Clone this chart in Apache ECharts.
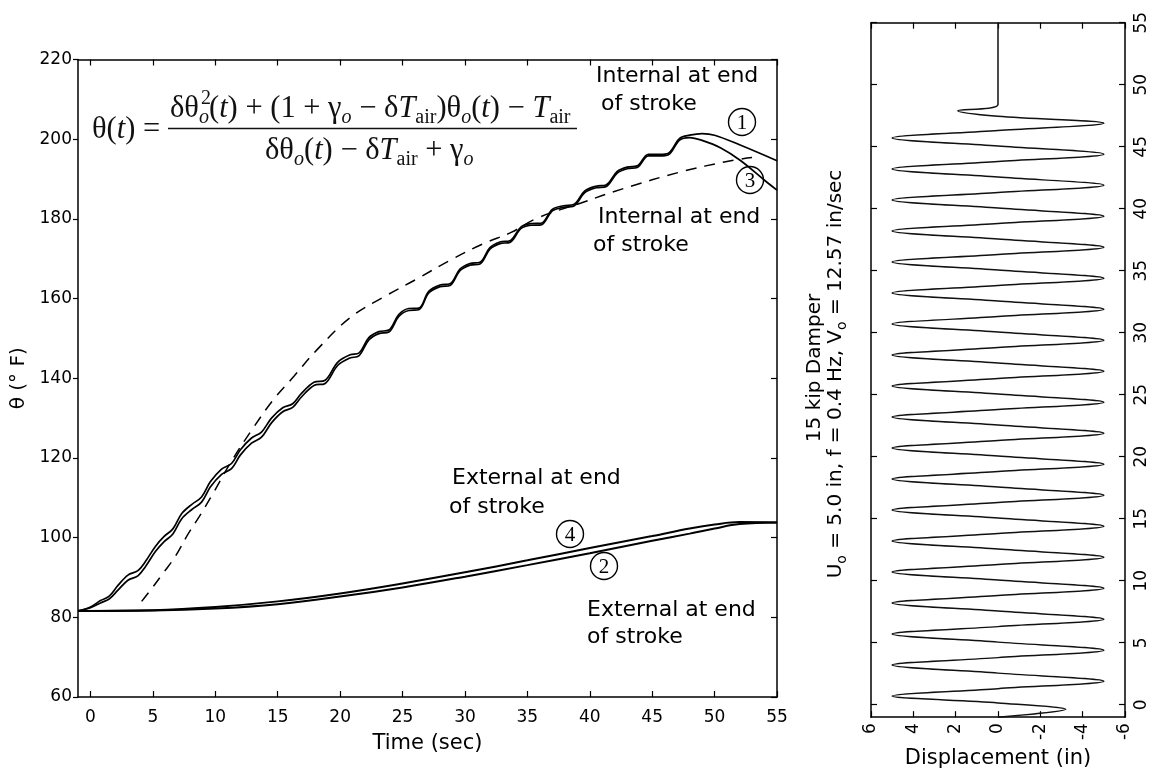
<!DOCTYPE html>
<html><head><meta charset="utf-8">
<script src="https://cdn.jsdelivr.net/npm/echarts@6/dist/echarts.min.js"></script>
<style>html,body{margin:0;padding:0;background:#fff}#c{width:1156px;height:774px}</style>
</head><body><div id="c"></div>
<script>
// ---------- tick labels ----------
const timeTicks = [0, 5, 10, 15, 20, 25, 30, 35, 40, 45, 50, 55];

// ---------- left panel: temperature (deg F) vs time (sec) ----------
const tInternal1 = [-1.0, 0.0, 0.8, 1.5, 2.2, 3.0, 3.8, 4.4, 5.2, 5.9, 6.6, 7.3, 8.1, 8.9, 9.6, 10.5, 11.3, 12.0, 12.9, 13.7, 14.5, 15.4, 16.2, 16.9, 17.9, 18.8, 19.8, 20.8, 21.5, 22.3, 23.1, 23.9, 24.7, 25.5, 26.3, 27.1, 28.0, 28.8, 29.6, 30.4, 31.2, 32.0, 32.8, 33.6, 34.5, 35.3, 36.1, 37.0, 37.9, 38.7, 39.6, 40.5, 41.3, 42.2, 43.0, 43.8, 44.7, 45.6, 46.3, 47.2, 48.0, 49.0, 50.0, 52.0, 55.0];
const vInternal1 = [81.6, 82.6, 84.2, 85.3, 88.0, 90.6, 91.7, 94.0, 97.8, 100.3, 102.2, 106.0, 108.3, 110.2, 114.0, 117.2, 118.6, 122.0, 125.0, 126.5, 130.0, 132.6, 133.6, 136.2, 139.0, 139.5, 144.0, 145.9, 146.3, 150.2, 151.7, 152.1, 156.0, 157.5, 157.6, 161.8, 163.4, 163.7, 167.4, 168.8, 169.1, 172.8, 174.2, 174.5, 178.0, 178.8, 178.9, 182.4, 183.3, 183.6, 187.0, 188.2, 188.5, 191.9, 193.0, 193.3, 196.2, 196.2, 196.5, 200.2, 201.0, 201.4, 201.0, 198.6, 194.6];

const tInternal3 = [-1.0, 0.0, 0.8, 1.5, 2.2, 3.0, 3.8, 4.4, 5.2, 5.9, 6.6, 7.3, 8.1, 8.9, 9.6, 10.5, 11.3, 12.0, 12.9, 13.7, 14.5, 15.4, 16.2, 16.9, 17.9, 18.8, 19.8, 20.8, 21.5, 22.3, 23.1, 23.9, 24.7, 25.5, 26.3, 27.1, 28.0, 28.8, 29.6, 30.4, 31.2, 32.0, 32.8, 33.6, 34.5, 35.3, 36.1, 37.0, 37.9, 38.7, 39.6, 40.5, 41.3, 42.2, 43.0, 43.8, 44.7, 45.6, 46.3, 47.2, 48.0, 49.0, 50.5, 52.1, 54.0, 55.0];
const vInternal3 = [81.6, 82.4, 83.6, 84.6, 86.8, 89.3, 90.4, 92.7, 96.5, 99.0, 100.9, 104.7, 107.0, 108.9, 112.7, 115.9, 117.3, 120.7, 123.7, 125.2, 128.8, 131.6, 132.7, 135.3, 138.2, 138.7, 143.2, 145.1, 145.6, 149.6, 151.2, 151.6, 155.5, 157.0, 157.2, 161.4, 163.0, 163.3, 167.0, 168.4, 168.7, 172.4, 173.8, 174.1, 177.6, 178.4, 178.5, 182.0, 182.9, 183.2, 186.6, 187.8, 188.1, 191.5, 192.6, 192.9, 195.8, 195.8, 196.1, 199.8, 200.4, 199.7, 197.8, 194.6, 189.7, 187.2];

const tDashed = [4.1, 5.0, 5.8, 6.8, 7.8, 8.9, 9.8, 11.3, 12.9, 14.6, 16.3, 18.1, 20.8, 23.5, 26.2, 28.8, 31.5, 33.7, 35.8, 39.3, 42.7, 47.3, 51.3, 53.0];
const vDashed = [84.0, 87.6, 91.0, 95.3, 100.8, 106.2, 111.0, 119.2, 126.9, 134.4, 140.5, 147.0, 155.2, 160.4, 165.0, 169.6, 173.8, 176.6, 180.2, 184.0, 187.6, 191.8, 194.6, 195.4];

const tExternal = [-1, 5, 10, 15, 20, 25, 30, 35, 40, 45, 48, 50, 52, 55];
const vExternal4 = [81.6, 81.8, 82.6, 84.0, 86.0, 88.5, 91.3, 94.3, 97.4, 100.4, 102.3, 103.3, 103.9, 103.8];
const vExternal2 = [81.6, 81.7, 82.2, 83.3, 85.2, 87.5, 90.2, 93.1, 96.1, 99.2, 101.0, 102.3, 103.4, 103.8];

// ---------- right panel: displacement (in) vs time (sec) ----------
const dispTime = [-1.0, -0.37, 0.15,
  0.7, 1.3, 1.9, 2.55,  3.2, 3.8, 4.4, 5.05,  5.7, 6.3, 6.9, 7.55,  8.2, 8.8, 9.4, 10.05,
  10.7, 11.3, 11.9, 12.55,  13.2, 13.8, 14.4, 15.05,  15.7, 16.3, 16.9, 17.55,  18.2, 18.8, 19.4, 20.05,
  20.7, 21.3, 21.9, 22.55,  23.2, 23.8, 24.4, 25.05,  25.7, 26.3, 26.9, 27.55,  28.2, 28.8, 29.4, 30.05,
  30.7, 31.3, 31.9, 32.55,  33.2, 33.8, 34.4, 35.05,  35.7, 36.3, 36.9, 37.55,  38.2, 38.8, 39.4, 40.05,
  40.7, 41.3, 41.9, 42.55,  43.2, 43.8, 44.4, 45.05,  45.7, 46.3, 46.9, 47.45,
  47.9, 48.4, 55.0];
const dispValue = [0, -3.2, 0,
  5, 0, -5, 0,  5, 0, -5, 0,  5, 0, -5, 0,  5, 0, -5, 0,
  5, 0, -5, 0,  5, 0, -5, 0,  5, 0, -5, 0,  5, 0, -5, 0,
  5, 0, -5, 0,  5, 0, -5, 0,  5, 0, -5, 0,  5, 0, -5, 0,
  5, 0, -5, 0,  5, 0, -5, 0,  5, 0, -5, 0,  5, 0, -5, 0,
  5, 0, -5, 0,  5, 0, -5, 0,  5, 0, -5, 0,
  1.9, 0, 0];

const SANS = 'DejaVu Sans';
const SERIF = 'Liberation Serif';
const pairs = (xs, ys) => xs.map((x, i) => [x, ys[i]]);

const chart = echarts.init(document.getElementById('c'), null, {renderer: 'canvas'});

const tickStyle = {color: '#000', width: 1.2};
const lineAxis = {show: true, onZero: false, lineStyle: {color: '#000', width: 1.5}};
const lblStyle = {color: '#000', fontFamily: SANS, fontSize: 17};

const mathRich = {
  n: {fontFamily: SERIF, fontSize: 30.5, lineHeight: 38},
  i: {fontFamily: SERIF, fontSize: 30.5, fontStyle: 'italic', lineHeight: 38},
  s: {fontFamily: SERIF, fontSize: 20, fontStyle: 'italic', lineHeight: 14, verticalAlign: 'bottom'},
  r: {fontFamily: SERIF, fontSize: 20, lineHeight: 14, verticalAlign: 'bottom'}
};
const sansRich = {
  t: {fontFamily: SANS, fontSize: 20, lineHeight: 26},
  s: {fontFamily: SANS, fontSize: 14, lineHeight: 10, verticalAlign: 'bottom'}
};

function label(txt, x, y) {
  return {type: 'text', x: x, y: y, z: 50,
    style: {text: txt, font: '22px "DejaVu Sans"', fill: '#000', textAlign: 'left', textVerticalAlign: 'middle'}};
}
function circled(num, x, y) {
  return {type: 'group', x: x, y: y, z: 50, children: [
    {type: 'circle', shape: {cx: 0, cy: 0, r: 13.5}, style: {fill: 'transparent', stroke: '#000', lineWidth: 1.4}},
    {type: 'text', x: 0, y: 1, style: {text: num, font: '21px "Liberation Serif"', fill: '#000', textAlign: 'center', textVerticalAlign: 'middle'}}
  ]};
}

const option = {
  animation: false,
  backgroundColor: '#fff',
  grid: [
    {left: 78, top: 59.5, width: 699, height: 637.5, show: false},
    {left: 871, top: 22.7, width: 254, height: 697.3, show: false}
  ],
  xAxis: [
    {gridIndex: 0, type: 'value', min: -1, max: 55, position: 'bottom',
      axisLine: lineAxis, splitLine: {show: false},
      axisTick: {show: true, inside: true, length: 6, customValues: timeTicks, lineStyle: tickStyle},
      axisLabel: Object.assign({customValues: timeTicks, margin: 12}, lblStyle),
      name: 'Time (sec)', nameLocation: 'middle', nameGap: 36,
      nameTextStyle: {fontFamily: SANS, fontSize: 21, color: '#000'}},
    {gridIndex: 0, type: 'value', min: -1, max: 55, position: 'top',
      axisLine: lineAxis, splitLine: {show: false},
      axisTick: {show: true, inside: true, length: 6, customValues: timeTicks, lineStyle: tickStyle},
      axisLabel: {show: false}},
    {gridIndex: 1, type: 'value', min: -6, max: 6, interval: 2, inverse: true, position: 'bottom',
      axisLine: lineAxis, splitLine: {show: false},
      axisTick: {show: true, inside: true, length: 6, lineStyle: tickStyle},
      axisLabel: Object.assign({rotate: 90, margin: 6}, lblStyle),
      name: 'Displacement (in)', nameLocation: 'middle', nameGap: 30,
      nameTextStyle: {fontFamily: SANS, fontSize: 21, color: '#000'}},
    {gridIndex: 1, type: 'value', min: -6, max: 6, interval: 2, inverse: true, position: 'top',
      axisLine: lineAxis, splitLine: {show: false},
      axisTick: {show: true, inside: true, length: 6, lineStyle: tickStyle},
      axisLabel: {show: false}}
  ],
  yAxis: [
    {gridIndex: 0, type: 'value', min: 60, max: 220, interval: 20, position: 'left',
      axisLine: lineAxis, splitLine: {show: false},
      axisTick: {show: true, inside: false, length: 5, lineStyle: tickStyle},
      axisLabel: Object.assign({margin: 6}, lblStyle),
      name: 'θ (° F)', nameLocation: 'middle', nameGap: 48,
      nameTextStyle: {fontFamily: SANS, fontSize: 20, color: '#000'}},
    {gridIndex: 0, type: 'value', min: 60, max: 220, interval: 20, position: 'right',
      axisLine: lineAxis, splitLine: {show: false},
      axisTick: {show: true, inside: true, length: 6, lineStyle: tickStyle},
      axisLabel: {show: false}},
    {gridIndex: 1, type: 'value', min: -1, max: 55, position: 'right',
      axisLine: lineAxis, splitLine: {show: false},
      axisTick: {show: true, inside: true, length: 6, customValues: timeTicks, lineStyle: tickStyle},
      axisLabel: Object.assign({customValues: timeTicks, rotate: 90, margin: 8}, lblStyle)},
    {gridIndex: 1, type: 'value', min: -1, max: 55, position: 'left',
      axisLine: lineAxis, splitLine: {show: false},
      axisTick: {show: true, inside: true, length: 6, customValues: timeTicks, lineStyle: tickStyle},
      axisLabel: {show: false}}
  ],
  series: [
    {name: 'Internal 1', type: 'line', xAxisIndex: 0, yAxisIndex: 0, data: pairs(tInternal1, vInternal1),
      smooth: 0.35, showSymbol: false, symbol: 'none', lineStyle: {color: '#000', width: 1.7}},
    {name: 'Internal 3', type: 'line', xAxisIndex: 0, yAxisIndex: 0, data: pairs(tInternal3, vInternal3),
      smooth: 0.35, showSymbol: false, symbol: 'none', lineStyle: {color: '#000', width: 1.7}},
    {name: 'Model', type: 'line', xAxisIndex: 0, yAxisIndex: 0, data: pairs(tDashed, vDashed),
      smooth: 0.4, showSymbol: false, symbol: 'none', lineStyle: {color: '#000', width: 1.5, type: [11, 8]}},
    {name: 'External 4', type: 'line', xAxisIndex: 0, yAxisIndex: 0, data: pairs(tExternal, vExternal4),
      smooth: 0.4, showSymbol: false, symbol: 'none', lineStyle: {color: '#000', width: 2}},
    {name: 'External 2', type: 'line', xAxisIndex: 0, yAxisIndex: 0, data: pairs(tExternal, vExternal2),
      smooth: 0.4, showSymbol: false, symbol: 'none', lineStyle: {color: '#000', width: 2}},
    {name: 'Displacement', type: 'line', xAxisIndex: 2, yAxisIndex: 2, data: pairs(dispValue, dispTime),
      smooth: 0.35, showSymbol: false, symbol: 'none', lineStyle: {color: '#111', width: 1.5}}
  ],
  graphic: {elements: [
    {type: 'text', x: 92, y: 130, z: 50, style: {text: '{n|θ(}{i|t}{n|) =}', rich: mathRich, fill: '#111', textAlign: 'left', textVerticalAlign: 'middle'}},
    {type: 'text', x: 170, y: 109, z: 50, style: {text: '{n|δθ}{s|o}{n|(}{i|t}{n|) + (1 + γ}{s|o}{n| − δ}{i|T}{r|air}{n|)θ}{s|o}{n|(}{i|t}{n|) − }{i|T}{r|air}', rich: mathRich, fill: '#111', textAlign: 'left', textVerticalAlign: 'middle'}},
    {type: 'text', x: 201, y: 99, z: 50, style: {text: '2', font: '20px "Liberation Serif"', fill: '#111', textAlign: 'left', textVerticalAlign: 'middle'}},
    {type: 'line', z: 50, shape: {x1: 168, y1: 128.5, x2: 577, y2: 128.5}, style: {stroke: '#111', lineWidth: 1.5}},
    {type: 'text', x: 265, y: 151, z: 50, style: {text: '{n|δθ}{s|o}{n|(}{i|t}{n|) − δ}{i|T}{r|air}{n| + γ}{s|o}', rich: mathRich, fill: '#111', textAlign: 'left', textVerticalAlign: 'middle'}},

    label('Internal at end', 596, 76), label('of stroke', 601, 104),
    label('Internal at end', 598, 217), label('of stroke', 593, 245),
    label('External at end', 452, 478), label('of stroke', 449, 507),
    label('External at end', 587, 610), label('of stroke', 587, 637),

    circled('1', 742, 122), circled('3', 750, 180), circled('4', 570, 534), circled('2', 604, 566),

    {type: 'text', x: 815, y: 368, rotation: Math.PI / 2, z: 50,
      style: {text: '15 kip Damper', font: '20px "DejaVu Sans"', fill: '#000', textAlign: 'center', textVerticalAlign: 'middle'}},
    {type: 'text', x: 836, y: 374, rotation: Math.PI / 2, z: 50,
      style: {text: '{t|U}{s|o}{t| = 5.0 in, f = 0.4 Hz, V}{s|o}{t| = 12.57 in/sec}', rich: sansRich, fill: '#000', textAlign: 'center', textVerticalAlign: 'middle'}}
  ]}
};
chart.setOption(option);
</script>
</body></html>
